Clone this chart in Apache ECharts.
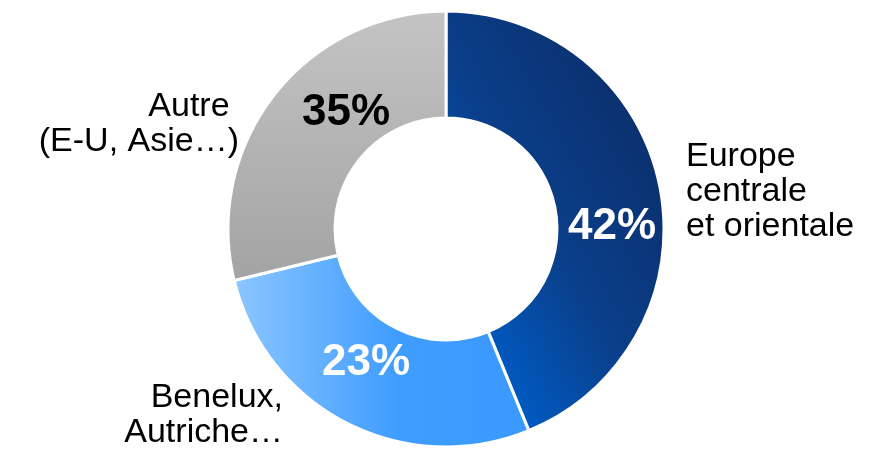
<!DOCTYPE html>
<html>
<head>
<meta charset="utf-8">
<script src="https://cdn.jsdelivr.net/npm/echarts@6/dist/echarts.min.js"></script>
<style>
  html, body { margin: 0; padding: 0; background: #fff; }
  #chart { width: 873px; height: 449px; }
</style>
</head>
<body>
<div id="chart"></div>
<script>
// categories (names shown outside the ring)
const categories = ['Europe\ncentrale\net orientale', 'Benelux,\nAutriche…', 'Autre\u00a0\n(E-U, Asie…)'];
// percentages printed on the slices
const shareLabels = ['42%', '23%', '35%'];
// slice sizes as drawn in the picture (arc shares)
const sliceValues = [43.8, 27.4, 28.8];

const myChart = echarts.init(document.getElementById('chart'));

const sliceColors = [
  new echarts.graphic.LinearGradient(0, 0.65, 1, 0.35, [
    { offset: 0, color: '#005ac2' },
    { offset: 0.45, color: '#0a3f8a' },
    { offset: 1, color: '#0b306e' }
  ]),
  new echarts.graphic.LinearGradient(0, 0, 1, 0, [
    { offset: 0, color: '#8cc6ff' },
    { offset: 0.55, color: '#409dff' },
    { offset: 1, color: '#3a99ff' }
  ]),
  new echarts.graphic.LinearGradient(0, 0, 0, 1, [
    { offset: 0, color: '#c4c4c4' },
    { offset: 1, color: '#a3a3a3' }
  ])
];

// where the printed labels sit
const pctPos = [[612, 227], [366, 363], [346, 113]];
const pctColor = ['#fff', '#fff', '#000'];
const namePos = [[686, 192], [283, 415], [239, 124]];
const nameAlign = ['left', 'right', 'right'];

const data = sliceValues.map((v, i) => ({
  name: categories[i],
  value: v,
  itemStyle: { color: sliceColors[i] },
  label: { color: pctColor[i] }
}));

const option = {
  animation: false,
  series: [
    {
      type: 'pie',
      center: [446, 229],
      radius: [111, 218],
      startAngle: 90,
      clockwise: true,
      silent: true,
      itemStyle: { borderColor: '#fff', borderWidth: 3 },
      label: {
        show: true,
        position: 'inside',
        fontFamily: 'Liberation Sans, Arial, sans-serif',
        fontWeight: 'bold',
        fontSize: 44,
        formatter: p => shareLabels[p.dataIndex]
      },
      labelLine: { show: false },
      labelLayout: p => ({
        x: pctPos[p.dataIndex][0],
        y: pctPos[p.dataIndex][1],
        align: 'center',
        verticalAlign: 'middle'
      }),
      data: data
    },
    {
      type: 'pie',
      center: [446, 229],
      radius: [111, 218],
      startAngle: 90,
      clockwise: true,
      silent: true,
      itemStyle: { color: 'rgba(0,0,0,0)' },
      label: {
        show: true,
        position: 'outside',
        alignTo: 'none',
        overflow: 'none',
        width: 400,
        color: '#000',
        fontFamily: 'Liberation Sans, Arial, sans-serif',
        fontSize: 34,
        lineHeight: 35,
        formatter: p => p.name
      },
      labelLine: { show: false },
      labelLayout: p => ({
        x: namePos[p.dataIndex][0],
        y: namePos[p.dataIndex][1],
        width: 400,
        align: nameAlign[p.dataIndex],
        verticalAlign: 'middle'
      }),
      data: sliceValues.map((v, i) => ({ name: categories[i], value: v }))
    }
  ]
};

myChart.setOption(option);
</script>
</body>
</html>
